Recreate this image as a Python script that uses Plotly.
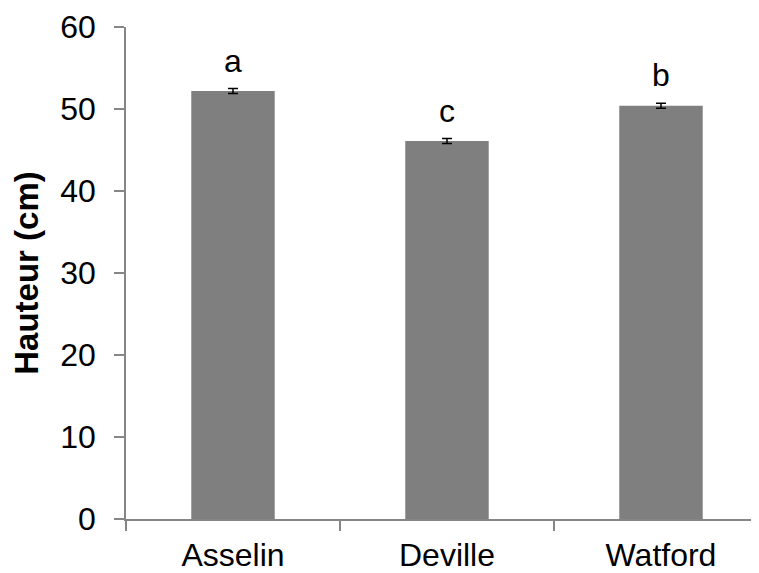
import plotly.graph_objects as go

categories = ["Asselin", "Deville", "Watford"]
heights = [52.2, 46.1, 50.4]
errors = [0.3, 0.3, 0.3]
letters = ["a", "c", "b"]
y_ticks = [0, 10, 20, 30, 40, 50, 60]

FONT = "Arial, Liberation Sans, sans-serif"
AXIS_COLOR = "#868686"

fig = go.Figure()
fig.add_trace(go.Bar(
    x=categories, y=heights,
    marker=dict(color="#7f7f7f", line=dict(width=0)),
    error_y=dict(type="data", array=errors, visible=True, color="black",
                 thickness=1.5, width=5),
    width=0.39,
))

for c, h, e, l in zip(categories, heights, errors, letters):
    fig.add_annotation(x=c, y=h + e, text=l, showarrow=False, yanchor="bottom",
                       yshift=8, font=dict(family=FONT, size=32, color="black"))

fig.update_layout(
    width=751, height=565,
    margin=dict(l=118, r=0, t=19, b=52),
    plot_bgcolor="white", paper_bgcolor="white",
    font=dict(family=FONT, size=32, color="black"),
    showlegend=False,
)
fig.update_xaxes(
    range=[-0.5, 2.458], showline=True, linecolor=AXIS_COLOR, linewidth=1.5,
    ticks="outside", tickson="boundaries", ticklen=10, tickcolor=AXIS_COLOR,
    tickwidth=1.5, showgrid=False, tickfont=dict(family=FONT, size=32),
    ticklabelstandoff=7,
)
fig.update_yaxes(
    range=[0, 60], tickvals=y_ticks, showline=True, linecolor=AXIS_COLOR,
    linewidth=1.5, ticks="outside", ticklen=10, tickcolor=AXIS_COLOR,
    tickwidth=1.5, showgrid=False, zeroline=False,
    tickfont=dict(family=FONT, size=32), ticklabelstandoff=12,
    title=dict(text="<b>Hauteur (cm)</b>", font=dict(family=FONT, size=33),
               standoff=12),
)

fig.write_html("out.html")
